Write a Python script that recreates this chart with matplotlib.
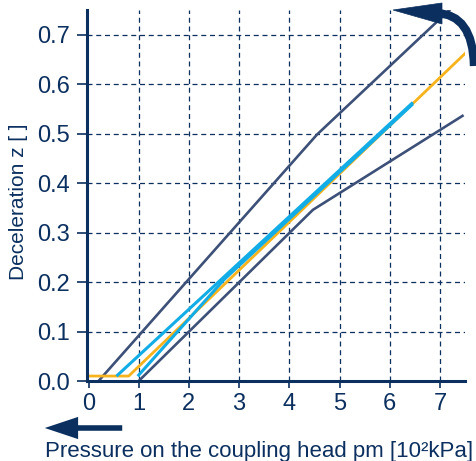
import matplotlib
matplotlib.use("Agg")
import matplotlib.pyplot as plt
from matplotlib.patches import FancyArrowPatch, PathPatch, Polygon
from matplotlib.path import Path

navy = "#0b2f5f"
slate = "#3d5078"
cyan = "#12ade6"
orange = "#f6b31c"

plt.rcParams['font.family'] = ['Liberation Sans', 'DejaVu Sans']

# curves (pressure in 10^2 kPa, deceleration z)
upper_x = [0.2, 4.55, 7.2]
upper_z = [0.0, 0.498, 0.751]
lower_x = [1.0, 4.47, 7.45]
lower_z = [0.0, 0.346, 0.536]
orange_x = [-0.03, 0.8, 7.5]
orange_z = [0.01, 0.01, 0.662]
cyan1_x = [0.58, 6.44]
cyan1_z = [0.012, 0.561]
cyan2_x = [1.0, 2.7, 6.44]
cyan2_z = [0.012, 0.205, 0.558]

xticks = [0, 1, 2, 3, 4, 5, 6, 7]
yticks = [0.0, 0.1, 0.2, 0.3, 0.4, 0.5, 0.6, 0.7]

W, H = 477, 461
fig = plt.figure(figsize=(W / 100, H / 100), dpi=100)
ax = fig.add_axes([87 / W, 1 - 381 / H, (465 - 87) / W, (381 - 10) / H])

for gx in xticks[1:]:
    ax.axvline(gx, color=navy, lw=0.9, ls=(0, (4, 3)), zorder=1)
for gy in yticks[1:]:
    ax.axhline(gy, color=navy, lw=0.9, ls=(0, (4, 3)), zorder=1)

ax.plot(upper_x, upper_z, color=slate, lw=1.9, zorder=3)
ax.plot(lower_x, lower_z, color=slate, lw=1.9, zorder=3)
ax.plot(orange_x, orange_z, color=orange, lw=2.0, zorder=4)
ax.plot(cyan1_x, cyan1_z, color=cyan, lw=2.2, zorder=5)
ax.plot(cyan2_x, cyan2_z, color=cyan, lw=2.2, zorder=5)

ax.set_xlim(-0.03, 7.5)
ax.set_ylim(0, 0.75)
ax.set_xticks(xticks)
ax.set_yticks(yticks)
ax.set_yticklabels(["%.1f" % v for v in yticks])

for s in ["top", "right"]:
    ax.spines[s].set_visible(False)
for s in ["left", "bottom"]:
    ax.spines[s].set_color(navy)
    ax.spines[s].set_linewidth(2.2)
    ax.spines[s].set_zorder(6)

ax.tick_params(axis="y", colors=navy, labelsize=17, length=7, width=1.2, pad=5)
ax.tick_params(axis="x", colors=navy, labelsize=17, length=5, width=1.2, pad=4)

ax.set_ylabel("Deceleration z [ ]", color=navy, fontsize=15)
ax.yaxis.set_label_coords(-0.155, 0.482)
ax.set_xlabel("Pressure on the coupling head pm [10²kPa]", color=navy, fontsize=16)
ax.xaxis.set_label_coords(0.455, -0.163)


def px(x, y):
    return (x / W, 1 - y / H)


# arrow under the x axis
fig.patches.append(FancyArrowPatch(px(125, 428), px(42, 428), transform=fig.transFigure,
                                   arrowstyle="simple,head_length=2.4,head_width=1.6,tail_width=0.4",
                                   mutation_scale=10, color=navy, lw=0))

# curved arrow top right
arc = Path([px(436, 13), px(473, 14), px(474, 66)], [Path.MOVETO, Path.CURVE3, Path.CURVE3])
fig.patches.append(PathPatch(arc, transform=fig.transFigure, fill=False, edgecolor=navy,
                             lw=6, capstyle="butt"))
fig.patches.append(Polygon([px(393, 10), px(442, 3), px(442, 24)], closed=True,
                           transform=fig.transFigure, facecolor=navy, edgecolor=navy, lw=0.5))

fig.savefig("out.png", dpi=100)
